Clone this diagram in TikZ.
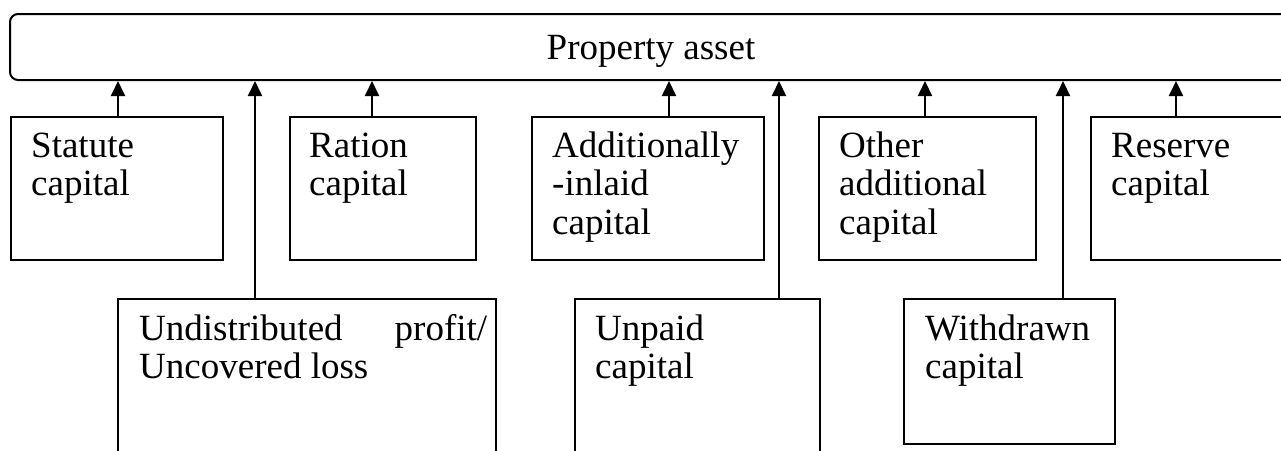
\documentclass[tikz,border=0pt]{standalone}
\usepackage{fontspec}
\setmainfont{Liberation Serif}
\usetikzlibrary{arrows.meta,calc}
\begin{document}
\begin{tikzpicture}[x=1pt,y=-1pt,
  topbox/.style={draw, line width=2pt, rounded corners=8pt, rectangle, inner sep=0pt,
    font=\fontsize{37}{38.7}\selectfont, text height=24pt, text depth=0pt},
  box/.style={draw, line width=1.7pt, rectangle, inner sep=0pt, anchor=north west},
  txt/.style={anchor=base west, inner sep=0pt, text width=#1, align=left,
    font=\fontsize{37}{38.7}\selectfont},
  jtxt/.style={anchor=base west, inner sep=0pt, text width=#1, align=justify,
    font=\fontsize{37}{38.7}\selectfont},
  arr/.style={line width=2pt, -{Triangle[width=14pt,length=15pt]}}]
\useasboundingbox (0,0) rectangle (1281,450);
\clip (0,0) rectangle (1281,450);
\fill[white] (0,0) rectangle (1281,450);
% top box
\node[topbox, minimum width=1282pt, minimum height=66pt] (asset) at (651,47) {Property asset};
% upper row
\node[box, minimum width=212pt, minimum height=143pt] (statute) at (10,116) {};
\node[box, minimum width=186pt, minimum height=143pt] (ration) at (289,116) {};
\node[box, minimum width=232pt, minimum height=143pt] (addl) at (531,116) {};
\node[box, minimum width=217pt, minimum height=143pt] (other) at (818,116) {};
\node[box, minimum width=220pt, minimum height=143pt] (reserve) at (1090,116) {};
% lower row
\node[box, minimum width=378pt, minimum height=180pt] (undist) at (117,298) {};
\node[box, minimum width=245pt, minimum height=180pt] (unpaid) at (574,298) {};
\node[box, minimum width=211pt, minimum height=145pt] (withdrawn) at (903,298) {};
% texts
\node[txt=190pt] (statute-t) at ($(statute.north west)+(21,41)$) {Statute\\capital};
\node[txt=165pt] (ration-t) at ($(ration.north west)+(20,41)$) {Ration\\capital};
\node[txt=210pt] (addl-t) at ($(addl.north west)+(21,41)$) {Additionally\\-inlaid\\capital};
\node[txt=195pt] (other-t) at ($(other.north west)+(21,41)$) {Other\\additional\\capital};
\node[txt=190pt] (reserve-t) at ($(reserve.north west)+(21,41)$) {Reserve\\capital};
\node[jtxt=348pt] (undist-t) at ($(undist.north west)+(22,42)$) {Undistributed profit/\linebreak Uncovered loss};
\node[txt=220pt] (unpaid-t) at ($(unpaid.north west)+(21,42)$) {Unpaid\\capital};
\node[txt=190pt] (withdrawn-t) at ($(withdrawn.north west)+(22,42)$) {Withdrawn\\capital};
% connectors
\coordinate (c1) at ($(statute.north west)+(108,0)$);
\coordinate (c2) at ($(ration.north west)+(83,0)$);
\coordinate (c3) at ($(addl.north west)+(138,0)$);
\coordinate (c4) at ($(other.north west)+(107,0)$);
\coordinate (c5) at ($(reserve.north west)+(86,0)$);
\coordinate (c6) at ($(undist.north west)+(138,0)$);
\coordinate (c7) at ($(unpaid.north west)+(205,0)$);
\coordinate (c8) at ($(withdrawn.north west)+(160,0)$);
\foreach \c in {c1,c2,c3,c4,c5,c6,c7,c8}
  \draw[arr] (\c) -- (\c |- asset.south);
\end{tikzpicture}
\end{document}
